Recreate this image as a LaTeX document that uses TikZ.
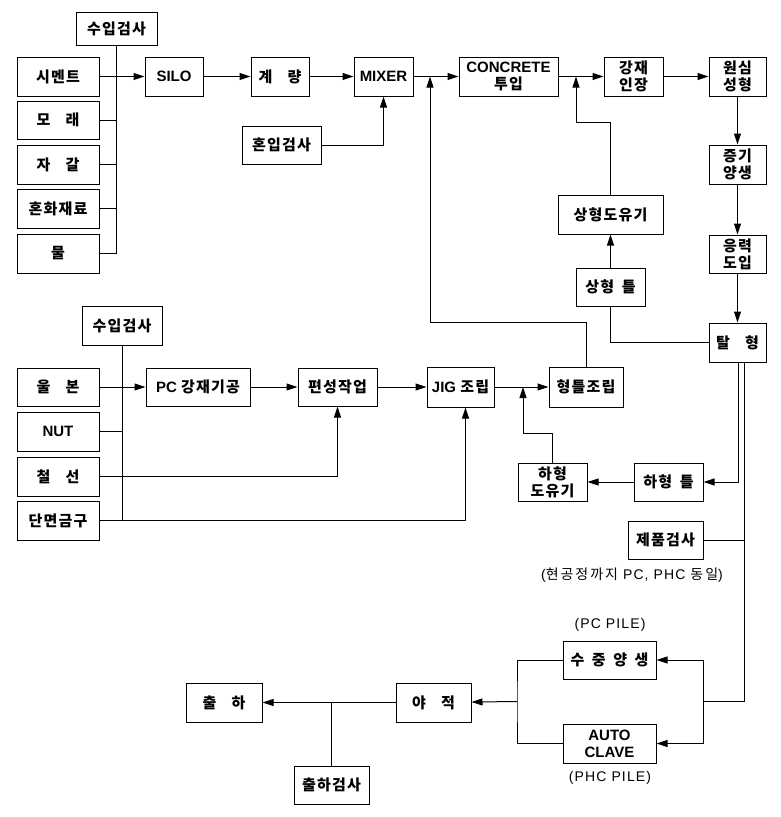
\documentclass[tikz,border=0pt]{standalone}
\usepackage{fontspec}
\setmainfont{Liberation Sans}
\newfontfamily\krfont[LetterSpace=8]{Noto Sans CJK KR}
\newfontfamily\notefont[LetterSpace=8]{Liberation Sans}
\newfontfamily\krnotefont[LetterSpace=14]{Noto Sans CJK KR}
\usetikzlibrary{arrows.meta}
\newcommand{\kr}[1]{{\krfont #1}}
\newcommand{\krn}[1]{{\krnotefont #1}}

\begin{document}
\begin{tikzpicture}[x=1pt,y=-1pt,line width=1pt,
    >={Triangle[length=11pt,width=7pt]}]
    \tikzstyle{every node}+=[inner sep=0pt]
    \tikzstyle{blk}=[draw,minimum height=39pt,align=center,
        font=\fontsize{15}{17}\selectfont\bfseries]
    \tikzstyle{kor}=[blk,font=\fontsize{15}{17}\selectfont\bfseries\krfont]
    \tikzstyle{note}=[font=\fontsize{14}{16}\selectfont\notefont]
    \useasboundingbox (0,0) rectangle (781,817);

    % raw materials and concrete line
    \node[kor,minimum width=81pt,minimum height=33pt] (insA) at (116.5,28.5) {수입검사};
    \node[kor,minimum width=82pt] (cement) at (58,76.5) {시멘트};
    \node[kor,minimum width=82pt,minimum height=38pt] (sand) at (58,120) {모\quad 래};
    \node[kor,minimum width=82pt] (gravel) at (58,164.5) {자\quad 갈};
    \node[kor,minimum width=82pt] (admix) at (58,208.5) {혼화재료};
    \node[kor,minimum width=82pt] (water) at (58,253.5) {물};
    \node[blk,minimum width=58pt] (silo) at (174,76.5) {SILO};
    \node[kor,minimum width=58pt] (weigh) at (280,76.5) {계\quad 량};
    \node[blk,minimum width=59pt] (mixer) at (383.5,76.5) {MIXER};
    \node[kor,minimum width=79pt,minimum height=38pt] (mixchk) at (281.5,145) {혼입검사};
    \node[blk,minimum width=99pt] (pour) at (508.5,76.5) {CONCRETE\\\kr{투입}};
    \node[kor,minimum width=59pt] (tension) at (633.5,76.5) {강재\\인장};
    \node[kor,minimum width=57pt] (spin) at (737.5,76.5) {원심\\성형};
    \node[kor,minimum width=57pt] (steam) at (737.5,164.5) {증기\\양생};
    \node[kor,minimum width=57pt,minimum height=38pt] (stress) at (737.5,254) {응력\\도입};
    \node[kor,minimum width=57pt] (demold) at (737.5,342.5) {탈\quad 형};
    \node[kor,minimum width=105pt] (oiltop) at (610.5,214.5) {상형도유기};
    \node[kor,minimum width=69pt,minimum height=38pt] (topmold) at (610.5,287) {상형\enspace 틀};

    % steel line
    \node[kor,minimum width=80pt] (insB) at (122,325.5) {수입검사};
    \node[kor,minimum width=82pt,minimum height=38pt] (strand) at (58,387) {울\quad 본};
    \node[blk,minimum width=82pt] (nut) at (58,431.5) {NUT};
    \node[kor,minimum width=82pt] (wire) at (58,476.5) {철\quad 선};
    \node[kor,minimum width=82pt] (endplate) at (58,520.5) {단면금구};
    \node[blk,minimum width=104pt,minimum height=38pt] (pcwork) at (198,387) {PC \kr{강재기공}};
    \node[kor,minimum width=79pt,minimum height=38pt] (cage) at (337.5,387) {편성작업};
    \node[blk,minimum width=67pt,minimum height=40pt] (jig) at (460.5,387) {JIG \kr{조립}};
    \node[kor,minimum width=74pt,minimum height=40pt] (moldasm) at (586,387) {형틀조립};
    \node[kor,minimum width=69pt,minimum height=38pt] (oilbot) at (552.5,482) {하형\\도유기};
    \node[kor,minimum width=69pt,minimum height=38pt] (botmold) at (668.5,482) {하형\enspace 틀};

    % curing and shipping
    \node[kor,minimum width=75pt,minimum height=38pt] (prodchk) at (665.5,540) {제품검사};
    \node[note] (noteA) at (632,575) {(\krn{현공정까지} PC, PHC \krn{동일})};
    \node[note] (noteB) at (610,625) {(PC PILE)};
    \node[kor,minimum width=93pt,minimum height=38pt] (wcure) at (609.5,660) {수\enspace 중\enspace 양\enspace 생};
    \node[blk,minimum width=93pt] (aclave) at (609.5,743.5) {AUTO\\CLAVE};
    \node[note] (noteC) at (610,778) {(PHC PILE)};
    \node[kor,minimum width=75pt] (stock) at (433.5,702.5) {야\quad 적};
    \node[kor,minimum width=76pt] (ship) at (224,702.5) {출\quad 하};
    \node[kor,minimum width=75pt,minimum height=38pt] (shipchk) at (331.5,785) {출하검사};

    \coordinate (jA) at (430,76.5);
    \coordinate (jB) at (576,76.5);
    \coordinate (jC) at (523,387);
    \coordinate (jD) at (703,701.5);
    \coordinate (jE) at (517,701.5);

    \draw (insA.south) -- (insA.south |- water.east);
    \foreach \n in {sand,gravel,admix,water}
        \draw (\n.east) -- (insA.south |- \n.east);
    \draw[->] (cement) -- (silo);
    \draw[->] (silo) -- (weigh);
    \draw[->] (weigh) -- (mixer);
    \draw[->] (mixer) -- (pour);
    \draw[->] (mixchk.east) -| (mixer.south);
    \draw[->] (pour) -- (tension);
    \draw[->] (tension) -- (spin);
    \draw[->] (spin) -- (steam);
    \draw[->] (steam) -- (stress);
    \draw[->] (stress) -- (demold);
    \draw[->] (topmold) -- (oiltop);
    \draw[->] (oiltop.north) -- ++(0,-72) -| (jB);
    \draw (topmold.south) |- (demold.west);
    \draw[->] (moldasm.north) -- ++(0,-44) -| (jA);

    \draw (insB.south) -- (insB.south |- endplate.east);
    \draw (nut.east) -- (insB.south |- nut.east);
    \draw[->] (strand) -- (pcwork);
    \draw[->] (pcwork) -- (cage);
    \draw[->] (cage) -- (jig);
    \draw[->] (jig) -- (moldasm);
    \draw[->] (wire.east) -| (cage.south);
    \draw[->] (endplate.east) -| ([xshift=5pt]jig.south);
    \draw[->] (oilbot.north) -- ++(0,-29) -| (jC);
    \draw[->] ([xshift=1pt]demold.south) |- (botmold.east);
    \draw[->] (botmold) -- (oilbot);

    \draw ([xshift=7pt]demold.south) |- (jD);
    \draw (prodchk.east) -- ([xshift=7pt]demold.south |- prodchk.east);
    \draw[->] (jD) |- (wcure.east);
    \draw[->] (jD) |- (aclave.east);
    \draw (wcure.west) -| (jE) |- (aclave.west);
    \draw[->] (jE) -- (stock);
    \draw[->] (stock) -- (ship);
    \draw (shipchk.north) -- (shipchk.north |- ship.east);
\end{tikzpicture}
\end{document}
